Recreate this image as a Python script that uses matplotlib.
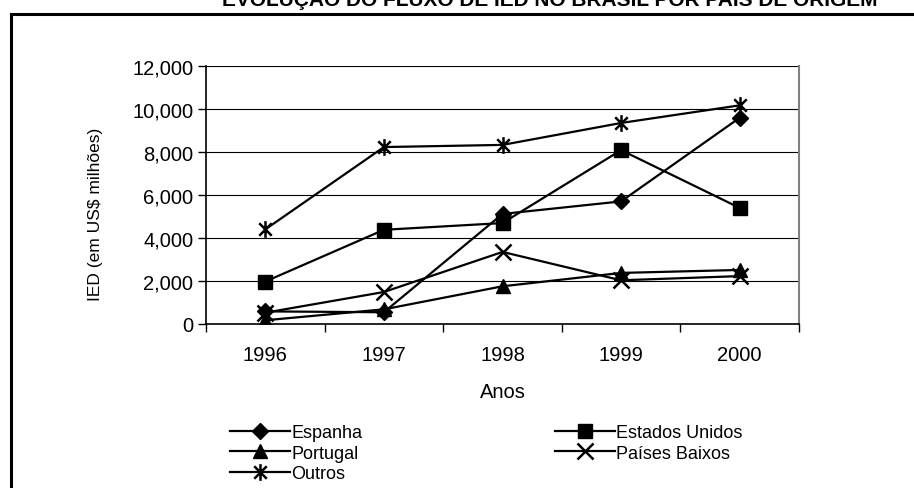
import matplotlib
matplotlib.use("Agg")
import matplotlib.pyplot as plt
from matplotlib.lines import Line2D
from matplotlib.path import Path

# Data (IED in US$ millions)
anos = ["1996", "1997", "1998", "1999", "2000"]
espanha = [587, 546, 5120, 5702, 9593]
estados_unidos = [1975, 4382, 4695, 8087, 5399]
portugal = [174, 682, 1754, 2376, 2514]
paises_baixos = [526, 1488, 3352, 2033, 2228]
outros = [4400, 8230, 8330, 9350, 10170]

plt.rcParams["font.family"] = ["Liberation Sans", "DejaVu Sans"]

# Excel style star: an x with a vertical bar through it
star = Path(
    [(0, -1), (0, 1), (-0.75, -0.75), (0.75, 0.75), (-0.75, 0.75), (0.75, -0.75)],
    [Path.MOVETO, Path.LINETO, Path.MOVETO, Path.LINETO, Path.MOVETO, Path.LINETO],
)

W, H = 914, 489
fig = plt.figure(figsize=(W / 100, H / 100), dpi=100)
ax = fig.add_axes([206 / W, 1 - 325 / H, (799 - 206) / W, (325 - 67) / H])

x = range(len(anos))
lw = 1.6
l_esp, = ax.plot(x, espanha, color="black", lw=lw, marker="D", ms=8.5, label="Espanha")
l_eua, = ax.plot(x, estados_unidos, color="black", lw=lw, marker="s", ms=10, label="Estados Unidos")
l_por, = ax.plot(x, portugal, color="black", lw=lw, marker="^", ms=10.5, label="Portugal")
l_pb, = ax.plot(x, paises_baixos, color="black", lw=lw, marker="x", ms=11, mew=1.8, label="Países Baixos")
l_out, = ax.plot(x, outros, color="black", lw=lw, marker=star, ms=12, mew=1.8, label="Outros")

# axes
ax.set_xlim(-0.5, len(anos) - 0.5)
ax.set_ylim(0, 12000)
ax.set_yticks(range(0, 12001, 2000))
ax.set_yticklabels([f"{v:,}" for v in range(0, 12001, 2000)], fontsize=14.5)
ax.set_xticks(list(x))
ax.set_xticklabels(anos, fontsize=14.5)
ax.set_xticks([i - 0.5 for i in range(len(anos) + 1)], minor=True)
ax.tick_params(axis="x", which="major", length=0, pad=15)
ax.tick_params(axis="x", which="minor", length=6, width=1, direction="out")
ax.tick_params(axis="y", length=6, width=1, pad=3)
ax.yaxis.grid(True, color="black", lw=0.8)
ax.set_axisbelow(True)

for s in ["left", "bottom"]:
    ax.spines[s].set_linewidth(1.2)
ax.spines["top"].set_visible(False)
ax.spines["right"].set_color("#808080")
ax.spines["right"].set_linewidth(1.5)

ax.set_ylabel("IED (em US$ milhões)", fontsize=12.5)
ax.yaxis.set_label_coords((103 - 206) / (799 - 206), (325 - 214) / (325 - 67))
ax.set_xlabel("Anos", fontsize=14.5)
ax.xaxis.set_label_coords(0.5, -(392 - 325) / (325 - 67))
ax.xaxis.label.set_va("center")

# legend, two blocks like the original
leg_kw = dict(frameon=False, fontsize=13, handlelength=3.3, handletextpad=0.1,
              labelspacing=0.2, borderpad=0, borderaxespad=0, loc="upper left")
fig.legend(handles=[l_esp, l_por, l_out], bbox_to_anchor=(230 / W, 1 - 425 / H), **leg_kw)
fig.legend(handles=[l_eua, l_pb], bbox_to_anchor=(555 / W, 1 - 425 / H), **leg_kw)

# outer chart frame (cut off at right/bottom)
fig.add_artist(Line2D([11 / W, 1], [1 - 14.5 / H] * 2, color="black", lw=2.2))
fig.add_artist(Line2D([11 / W] * 2, [0, 1 - 14.5 / H], color="black", lw=2.2))

# title, mostly cut off at the top as in the source
fig.text(222 / W, 1 - 6 / H, "EVOLUÇÃO DO FLUXO DE IED NO BRASIL POR PAÍS DE ORIGEM",
         fontsize=15, fontweight="bold", va="baseline", ha="left")

fig.savefig("out.png", dpi=100)
